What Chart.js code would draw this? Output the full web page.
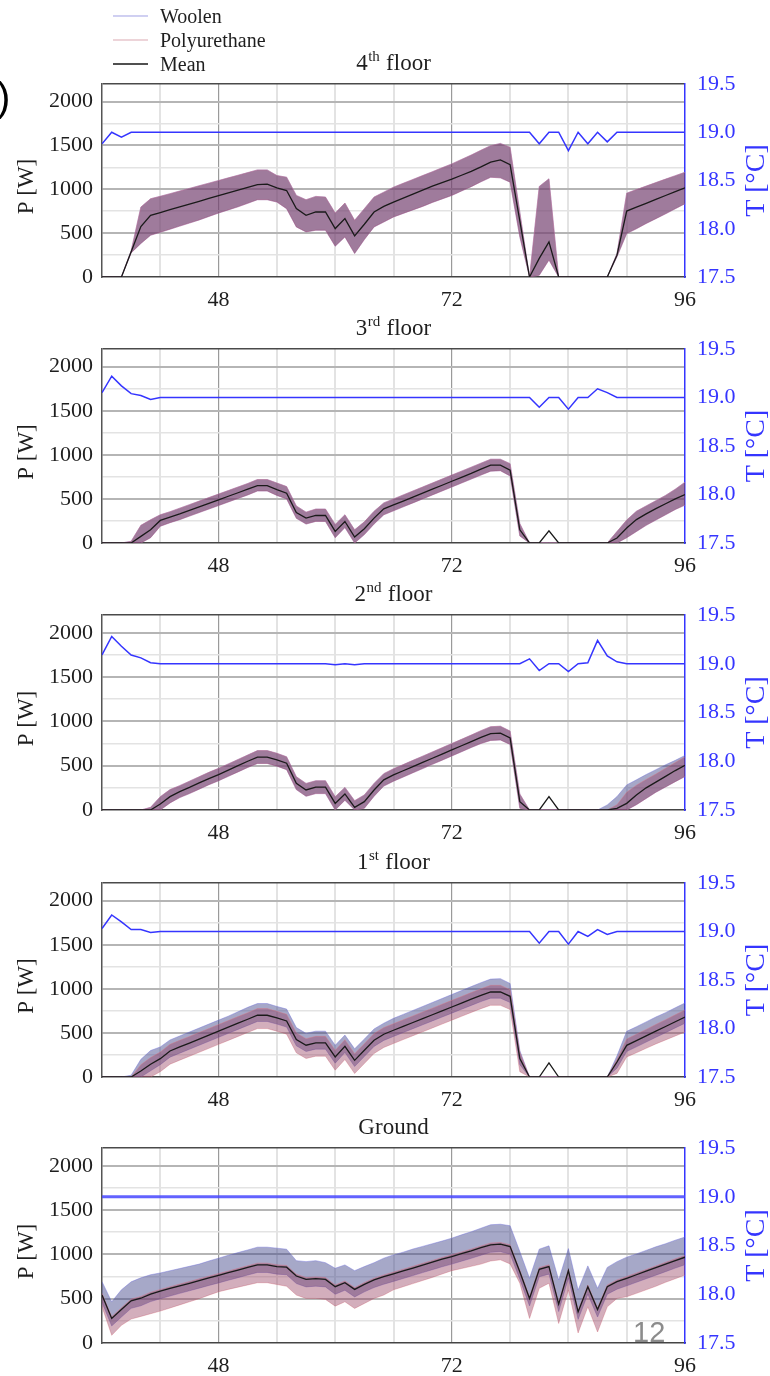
<!DOCTYPE html>
<html><head><meta charset="utf-8">
<script src="https://cdn.jsdelivr.net/npm/chart.js@4.4.1/dist/chart.umd.min.js"></script>
<style>
html,body{margin:0;padding:0;background:#fff;}
body{width:770px;height:1376px;position:relative;overflow:hidden;}
canvas{position:absolute;left:0;}
</style></head><body>
<script>
// ---------- categories / ticks ----------
const hours = [36,37,38,39,40,41,42,43,44,45,
  46,47,48,49,50,51,52,53,54,55,
  56,57,58,59,60,61,62,63,64,65,
  66,67,68,69,70,71,72,73,74,75,
  76,77,78,79,80,81,82,83,84,85,
  86,87,88,89,90,91,92,93,94,95,
  96];
const hourTicks = [36,42,48,54,60,66,72,78,84,90,96];
const hourLabels = [48,72,96];
const powerTicks = [0,250,500,750,1000,1250,1500,1750,2000,2200];
const powerLabels = [0,500,1000,1500,2000];
const tempTicks = [17.5,18.0,18.5,19.0,19.5];
const legendLabels = ['Woolen','Polyurethane','Mean'];
const panelTitles = [['4','th',' floor'],['3','rd',' floor'],['2','nd',' floor'],['1','st',' floor'],['Ground','','']];

// ---------- 4th floor ----------
const mean4 = [0,0,0,287,575,703,735,767,799,831,
  863,895,927,959,991,1023,1054,1058,1017,986,
  779,703,741,741,552,665,469,601,741,805,
  854,900,945,990,1035,1075,1115,1160,1205,1255,
  1310,1334,1281,640,0,212,401,0,0,0,
  0,0,0,249,752,796,840,884,929,973,
  1017];
const hi4 = [0,0,0,300,797,892,920,950,980,1010,
  1040,1070,1100,1130,1160,1190,1221,1221,1156,1138,
  930,881,919,911,729,843,646,779,911,967,
  1024,1068,1112,1156,1200,1245,1289,1340,1390,1445,
  1497,1523,1478,741,0,1032,1119,0,0,0,
  0,0,0,268,956,996,1036,1076,1116,1155,
  1194];
const lo4 = [0,0,0,275,382,476,510,545,580,615,
  650,690,729,765,800,840,881,881,854,779,
  571,514,533,533,351,457,268,427,571,627,
  684,725,765,805,850,890,930,980,1030,1085,
  1137,1130,1081,457,0,20,193,0,0,0,
  0,0,0,230,495,550,610,665,720,778,
  835];
const temp4 = [18.88,19.0,18.95,19.0,19.0,19.0,19.0,19.0,19.0,19.0,
  19.0,19.0,19.0,19.0,19.0,19.0,19.0,19.0,19.0,19.0,
  19.0,19.0,19.0,19.0,19.0,19.0,19.0,19.0,19.0,19.0,
  19.0,19.0,19.0,19.0,19.0,19.0,19.0,19.0,19.0,19.0,
  19.0,19.0,19.0,19.0,19.0,18.88,19.0,19.0,18.81,19.0,
  18.88,19.0,18.9,19.0,19.0,19.0,19.0,19.0,19.0,19.0,
  19.0];

// ---------- 3rd floor ----------
const mean3 = [0,0,0,0,75,150,256,293,330,370,
  410,450,490,530,570,610,650,650,605,564,
  346,282,312,312,132,244,68,162,282,387,
  432,476,520,565,610,655,700,745,790,838,
  883,883,827,150,0,0,139,0,0,0,
  0,0,0,56,170,265,330,390,445,500,
  550];
const hi3 = [0,0,0,20,200,263,320,355,395,435,
  475,515,555,595,635,675,720,720,680,640,
  420,350,385,385,210,320,150,240,360,455,
  500,545,590,635,680,725,770,815,860,905,
  950,950,900,220,0,0,0,0,0,0,
  0,0,0,130,260,360,420,480,540,610,
  690];
const lo3 = [0,0,0,0,0,60,190,230,265,305,
  345,385,425,465,505,545,590,590,540,500,
  280,215,245,245,60,175,0,95,215,320,
  365,410,455,500,545,590,635,680,725,770,
  815,820,760,80,0,0,0,0,0,0,
  0,0,0,0,60,130,200,260,320,380,
  430];
const temp3 = [19.05,19.22,19.12,19.04,19.02,18.98,19.0,19.0,19.0,19.0,
  19.0,19.0,19.0,19.0,19.0,19.0,19.0,19.0,19.0,19.0,
  19.0,19.0,19.0,19.0,19.0,19.0,19.0,19.0,19.0,19.0,
  19.0,19.0,19.0,19.0,19.0,19.0,19.0,19.0,19.0,19.0,
  19.0,19.0,19.0,19.0,19.0,18.9,19.0,19.0,18.88,19.0,
  19.0,19.09,19.05,19.0,19.0,19.0,19.0,19.0,19.0,19.0,
  19.0];

// ---------- 2nd floor ----------
const mean2 = [0,0,0,0,0,0,68,151,208,255,
  305,355,400,450,500,550,596,596,566,528,
  302,226,257,257,75,181,30,94,226,340,
  396,443,490,537,584,631,678,725,772,820,
  862,868,813,94,0,0,151,0,0,0,
  0,0,0,19,75,170,250,315,380,445,
  505];
const woolHi2 = [0,0,0,0,0,30,150,230,275,325,
  375,425,470,520,570,620,670,670,640,600,
  375,300,330,330,150,255,105,170,300,410,
  465,512,560,607,655,702,750,797,845,895,
  940,945,890,180,0,0,0,0,0,0,
  0,0,57,151,283,340,400,455,510,560,
  616];
const polyHi2 = [0,0,0,0,0,30,150,230,275,325,
  375,425,470,520,570,620,670,670,640,600,
  375,300,330,330,150,255,105,170,300,410,
  465,512,560,607,655,702,750,797,845,895,
  940,945,890,180,0,0,0,0,0,0,
  0,0,0,60,200,280,345,405,470,535,
  600];
const lo2 = [0,0,0,0,0,0,0,80,140,185,
  235,285,330,380,430,480,525,525,495,455,
  230,155,185,185,0,110,0,20,155,270,
  325,372,420,467,515,562,610,657,705,750,
  785,790,740,20,0,0,0,0,0,0,
  0,0,0,0,0,60,130,200,260,320,
  378];
const temp2 = [19.09,19.28,19.18,19.09,19.06,19.01,19.0,19.0,19.0,19.0,
  19.0,19.0,19.0,19.0,19.0,19.0,19.0,19.0,19.0,19.0,
  19.0,19.0,19.0,19.0,18.99,19.0,18.99,19.0,19.0,19.0,
  19.0,19.0,19.0,19.0,19.0,19.0,19.0,19.0,19.0,19.0,
  19.0,19.0,19.0,19.0,19.05,18.93,19.0,19.0,18.92,19.0,
  19.01,19.24,19.08,19.02,19.0,19.0,19.0,19.0,19.0,19.0,
  19.0];

// ---------- 1st floor ----------
const mean1 = [0,0,0,0,68,144,208,295,341,385,
  430,475,520,565,610,655,700,700,670,636,
  424,360,386,386,227,348,189,303,417,485,
  530,574,618,662,706,750,794,838,882,925,
  964,964,915,208,0,0,159,0,0,0,
  0,0,0,170,359,412,466,520,573,627,
  680];
const woolHi1 = [0,0,0,20,200,300,341,420,465,510,
  555,600,645,690,740,790,833,833,800,770,
  560,495,520,520,360,475,320,430,545,610,
  665,710,755,800,845,890,935,980,1025,1070,
  1110,1115,1060,300,0,0,0,0,0,0,
  0,0,0,240,518,570,625,680,730,785,
  839];
const woolLo1 = [0,0,0,0,0,70,140,225,270,315,
  360,405,450,495,540,585,630,630,600,566,
  354,290,316,316,157,278,119,233,347,415,
  460,504,548,592,636,680,724,768,812,855,
  894,894,845,140,0,0,0,0,0,0,
  0,0,0,100,289,342,396,450,503,557,
  610];
const polyHi1 = [0,0,0,0,140,220,283,370,416,460,
  505,550,595,640,685,730,776,776,745,711,
  499,435,461,461,302,423,264,378,492,560,
  605,649,693,737,781,825,869,913,957,1000,
  1040,1040,990,280,0,0,0,0,0,0,
  0,0,0,200,430,485,540,595,650,705,
  760];
const polyLo1 = [0,0,0,0,0,0,60,145,191,235,
  280,325,370,415,460,505,549,549,520,486,
  274,210,236,236,77,198,39,153,267,335,
  380,424,468,512,556,600,644,688,732,775,
  813,813,765,60,0,0,0,0,0,0,
  0,0,0,40,227,275,325,375,420,465,
  510];
const temp1 = [19.03,19.17,19.1,19.02,19.02,18.99,19.0,19.0,19.0,19.0,
  19.0,19.0,19.0,19.0,19.0,19.0,19.0,19.0,19.0,19.0,
  19.0,19.0,19.0,19.0,19.0,19.0,19.0,19.0,19.0,19.0,
  19.0,19.0,19.0,19.0,19.0,19.0,19.0,19.0,19.0,19.0,
  19.0,19.0,19.0,19.0,19.0,18.88,19.0,19.0,18.87,19.0,
  18.95,19.02,18.97,19.0,19.0,19.0,19.0,19.0,19.0,19.0,
  19.0];

// ---------- Ground ----------
const mean0 = [541,277,378,476,505,552,585,615,645,674,
  704,734,763,793,822,852,881,881,862,855,
  756,718,726,718,635,680,605,662,711,748,
  780,813,846,879,912,945,975,1008,1040,1075,
  1108,1115,1088,805,503,832,862,439,816,351,
  635,378,635,692,730,770,810,850,890,930,
  968];
const woolHi0 = [692,465,600,690,735,770,790,815,840,865,
  890,925,957,990,1020,1050,1081,1081,1070,1058,
  929,918,929,906,843,881,816,862,906,957,
  994,1025,1060,1090,1120,1150,1183,1220,1255,1295,
  1334,1340,1323,1032,730,1059,1096,711,1065,597,
  870,617,853,918,968,1005,1045,1085,1120,1160,
  1195];
const woolLo0 = [456,192,293,391,420,467,500,530,560,589,
  619,649,678,708,737,767,796,796,777,770,
  671,633,641,633,550,595,520,577,626,663,
  695,728,761,794,827,860,890,923,955,990,
  1023,1030,1003,720,418,747,777,354,731,266,
  550,293,550,607,645,685,725,765,805,845,
  883];
const polyHi0 = [561,297,398,496,525,572,605,635,665,694,
  724,754,783,813,842,872,901,901,882,875,
  776,738,746,738,655,700,625,682,731,768,
  800,833,866,899,932,965,995,1028,1060,1095,
  1128,1135,1108,825,523,852,882,459,836,371,
  655,398,655,712,750,790,830,870,910,950,
  988];
const polyLo0 = [408,87,200,270,300,330,360,395,430,465,
  500,540,578,605,630,655,680,680,660,640,
  541,503,503,492,416,465,390,446,503,541,
  600,635,670,705,740,778,816,840,865,890,
  925,938,892,674,277,617,674,220,597,113,
  408,124,408,503,522,560,600,640,685,725,
  767];
const temp0 = [19.0,19.0,19.0,19.0,19.0,19.0,19.0,19.0,19.0,19.0,
  19.0,19.0,19.0,19.0,19.0,19.0,19.0,19.0,19.0,19.0,
  19.0,19.0,19.0,19.0,19.0,19.0,19.0,19.0,19.0,19.0,
  19.0,19.0,19.0,19.0,19.0,19.0,19.0,19.0,19.0,19.0,
  19.0,19.0,19.0,19.0,19.0,19.0,19.0,19.0,19.0,19.0,
  19.0,19.0,19.0,19.0,19.0,19.0,19.0,19.0,19.0,19.0,
  19.0];

// ---------- assembly ----------
const panelSeries = [
  {mean:mean4, woolHi:hi4, woolLo:lo4, polyHi:hi4, polyLo:lo4, temp:temp4},
  {mean:mean3, woolHi:hi3, woolLo:lo3, polyHi:hi3, polyLo:lo3, temp:temp3},
  {mean:mean2, woolHi:woolHi2, woolLo:lo2, polyHi:polyHi2, polyLo:lo2, temp:temp2},
  {mean:mean1, woolHi:woolHi1, woolLo:woolLo1, polyHi:polyHi1, polyLo:polyLo1, temp:temp1},
  {mean:mean0, woolHi:woolHi0, woolLo:woolLo0, polyHi:polyHi0, polyLo:polyLo0, temp:temp0}
];
// layout (pixel positions of each plot area)
const panelBoxes = [[84,277],[349,543],[615,810],[883,1077],[1148,1343]];

const SERIF = '"Liberation Serif", "Times New Roman", serif';
const BLUE = '#3535ff';
const WOOL_FILL = 'rgba(60,66,135,0.46)';
const POLY_FILL = 'rgba(150,62,95,0.42)';
const WOOL_EDGE = 'rgba(110,110,215,0.55)';
const POLY_EDGE = 'rgba(220,120,130,0.5)';

function pts(arr){ return hours.map((h,i)=>({x:h, y:arr[i]})); }

function decoPlugin(idx){
  const t = panelTitles[idx];
  return {
    id:'deco'+idx,
    afterDraw(chart){
      const ctx = chart.ctx, ca = chart.chartArea;
      ctx.save();
      ctx.fillStyle = '#1e1e1e';
      ctx.textBaseline = 'alphabetic';
      ctx.textAlign = 'left';
      const big = '23px ' + SERIF, small = '15px ' + SERIF;
      ctx.font = big;
      const w1 = ctx.measureText(t[0]).width, w3 = ctx.measureText(t[2]).width;
      ctx.font = small;
      const w2 = t[1] ? ctx.measureText(t[1]).width + 1 : 0;
      let x = (ca.left + ca.right)/2 - (w1 + w2 + w3)/2;
      const by = ca.top - 14;
      ctx.font = big; ctx.fillText(t[0], x, by); x += w1;
      if (t[1]) { ctx.font = small; ctx.fillText(t[1], x + 0.5, by - 9); x += w2; }
      ctx.font = big; ctx.fillText(t[2], x, by);

      const cy = (ca.top + ca.bottom)/2;
      ctx.save();
      ctx.translate(27, cy + 6); ctx.rotate(-Math.PI/2);
      ctx.textAlign = 'center'; ctx.textBaseline = 'middle';
      ctx.font = '23px ' + SERIF; ctx.fillText('P [W]', 0, 0);
      ctx.restore();
      ctx.save();
      ctx.translate(757, cy); ctx.rotate(-Math.PI/2);
      ctx.textAlign = 'center'; ctx.textBaseline = 'middle';
      ctx.fillStyle = BLUE; ctx.font = '28px ' + SERIF; ctx.fillText('T [°C]', 0, 0);
      ctx.restore();

      if (idx === 0) {
        const ys = [16, 40, 64];
        const cols = ['rgba(150,150,225,0.9)', 'rgba(215,160,170,0.9)', '#505050'];
        const lws = [1, 1, 2];
        legendLabels.forEach((lab, k) => {
          ctx.strokeStyle = cols[k]; ctx.lineWidth = lws[k];
          ctx.beginPath(); ctx.moveTo(113, ys[k]); ctx.lineTo(148, ys[k]); ctx.stroke();
          ctx.fillStyle = '#1e1e1e'; ctx.font = '20px ' + SERIF;
          ctx.textAlign = 'left'; ctx.textBaseline = 'alphabetic';
          ctx.fillText(lab, 160, ys[k] + 7);
        });
        ctx.fillStyle = '#000';
        ctx.font = '40px "Liberation Sans", Arial, sans-serif';
        ctx.textAlign = 'left'; ctx.textBaseline = 'alphabetic';
        ctx.fillText(')', -3, 111);
      }
      if (idx === 4) {
        ctx.fillStyle = '#8c8c8c';
        ctx.font = '29px "Liberation Sans", Arial, sans-serif';
        ctx.textAlign = 'left'; ctx.textBaseline = 'alphabetic';
        ctx.fillText('12', 633, ca.bottom - 1);
      }
      ctx.restore();
    }
  };
}

const tickFont = {family: SERIF, size: 22};

panelBoxes.forEach((box, idx) => {
  const [top, bottom] = box;
  const padTop = idx === 0 ? top : 40;
  const h = padTop + (bottom - top) + 38;
  const cv = document.createElement('canvas');
  cv.width = 770; cv.height = h;
  cv.style.top = (top - padTop) + 'px';
  cv.style.width = '770px'; cv.style.height = h + 'px';
  document.body.appendChild(cv);
  const s = panelSeries[idx];
  const isGround = idx === 4;
  new Chart(cv.getContext('2d'), {
    type: 'line',
    data: {
      datasets: [
        {data: pts(s.mean), borderColor:'#1a1a1a', borderWidth:1.3, fill:false, yAxisID:'y'},
        {data: pts(s.temp), borderColor: isGround ? 'rgba(70,70,255,0.85)' : BLUE, borderWidth: isGround ? 3 : 1.5, fill:false, yAxisID:'y1'},
        {data: pts(s.polyHi), borderColor: POLY_EDGE, borderWidth:0.8, backgroundColor: POLY_FILL, fill:'+1', yAxisID:'y'},
        {data: pts(s.polyLo), borderColor: POLY_EDGE, borderWidth:0.8, fill:false, yAxisID:'y'},
        {data: pts(s.woolHi), borderColor: WOOL_EDGE, borderWidth:0.8, backgroundColor: WOOL_FILL, fill:'+1', yAxisID:'y'},
        {data: pts(s.woolLo), borderColor: WOOL_EDGE, borderWidth:0.8, fill:false, yAxisID:'y'}
      ]
    },
    options: {
      responsive:false, maintainAspectRatio:false, animation:false, devicePixelRatio:1,
      layout:{padding:{top:padTop, left:0, right:0, bottom:0}},
      elements:{point:{radius:0}, line:{tension:0}},
      plugins:{legend:{display:false}, tooltip:{enabled:false}, title:{display:false}},
      scales:{
        x:{
          type:'linear', min:36, max:96,
          afterBuildTicks: ax => { ax.ticks = hourTicks.map(v => ({value:v})); },
          afterFit: ax => { ax.height = 38; },
          ticks:{padding:10, autoSkip:false, maxRotation:0, color:'#1e1e1e', font:tickFont,
            callback: v => hourLabels.includes(v) ? String(v) : ''},
          grid:{drawTicks:false,
            color: c => { const v = c.tick ? c.tick.value : null; if (v===36||v===96) return 'rgba(0,0,0,0)'; return (v===48||v===72) ? '#9a9a9a' : '#e3e3e3'; },
            lineWidth: c => { const v = c.tick ? c.tick.value : null; return (v===48||v===72) ? 1.2 : 2; }},
          border:{display:true, color:'#444', width:1.5}
        },
        y:{
          type:'linear', position:'left', min:0, max:2200,
          afterBuildTicks: ax => { ax.ticks = powerTicks.map(v => ({value:v})); },
          afterFit: ax => { ax.width = 102; },
          ticks:{padding:9, autoSkip:false, color:'#1e1e1e', font:tickFont,
            callback: v => powerLabels.includes(v) ? String(v) : ''},
          grid:{drawTicks:false,
            color: c => { const v = c.tick ? c.tick.value : null; if (v===2200) return '#4a4a4a'; if (v===0) return 'rgba(0,0,0,0)'; return (v % 500 === 0) ? '#b5b5b5' : '#e3e3e3'; },
            lineWidth: c => { const v = c.tick ? c.tick.value : null; if (v===2200) return 1.5; return (v % 500 === 0) ? 2 : 1.5; }},
          border:{display:true, color:'#555', width:1.5}
        },
        y1:{
          type:'linear', position:'right', min:17.5, max:19.5,
          afterBuildTicks: ax => { ax.ticks = tempTicks.map(v => ({value:v})); },
          afterFit: ax => { ax.width = 85; },
          ticks:{padding:12, autoSkip:false, color:BLUE, font:tickFont, callback: v => Number(v).toFixed(1)},
          grid:{drawOnChartArea:false, drawTicks:false},
          border:{display:true, color:BLUE, width:1.5}
        }
      }
    },
    plugins:[decoPlugin(idx)]
  });
});
</script>
</body></html>
